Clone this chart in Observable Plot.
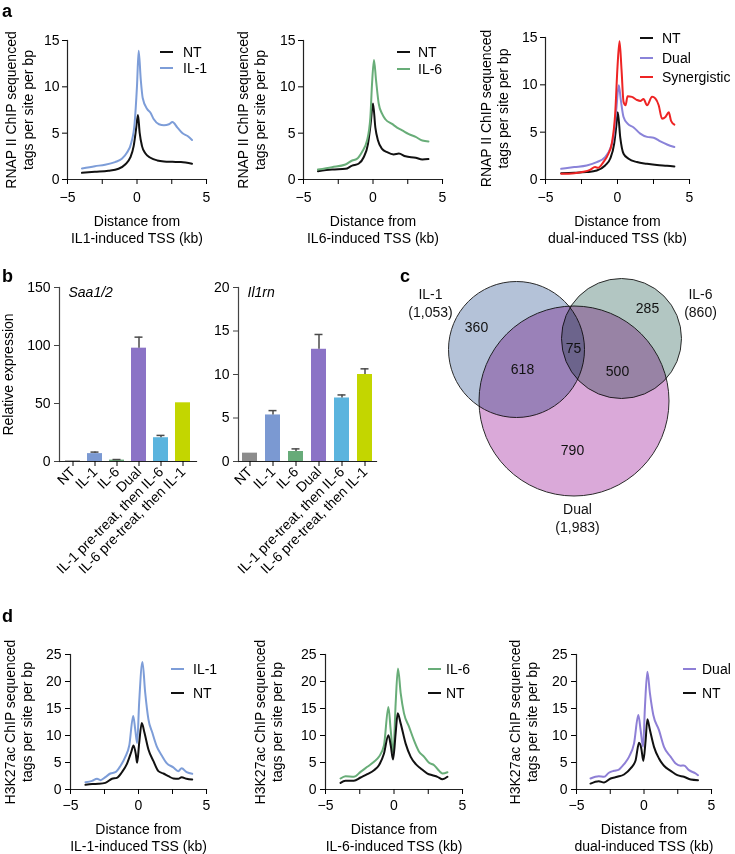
<!DOCTYPE html>
<html><head><meta charset="utf-8">
<script src="https://cdn.jsdelivr.net/npm/d3@7"></script>
<script src="https://cdn.jsdelivr.net/npm/@observablehq/plot@0.6"></script>
<style>
html,body{margin:0;padding:0;background:#fff;}
#fig{position:relative;width:735px;height:854px;font-family:Arial,"Liberation Sans",Helvetica,sans-serif;color:#000;overflow:hidden;background:#fff;}
#fig svg{overflow:visible;}
.pl{position:absolute;font-weight:bold;font-size:18px;line-height:18px;}
.leg{position:absolute;display:flex;align-items:center;font-size:14px;height:16px;line-height:16px;white-space:nowrap;}
.leg .sw{display:inline-block;width:13px;height:2px;}
.venn circle{mix-blend-mode:multiply;}
</style></head><body><div id="fig"></div><script>
// ---------------- DATA ----------------
// Panel a: RNAP II ChIP profiles ([kb, tags per site per bp])
const a1_NT = [[-3.96,0.72],[-3.03,0.83],[-2.06,0.94],[-1.33,1.16],[-0.85,1.62],[-0.49,2.35],[-0.24,3.6],[-0.07,5.4],[0.07,6.97],[0.19,5.05],[0.36,3.6],[0.61,2.8],[0.97,2.35],[1.46,2.06],[1.94,1.95],[2.55,1.91],[3.16,1.88],[3.96,1.7]];
const a1_IL1 = [[-3.96,1.19],[-3.03,1.44],[-2.3,1.59],[-1.58,1.88],[-1.09,2.24],[-0.73,2.89],[-0.41,3.97],[-0.17,6.1],[0,10.1],[0.12,13.9],[0.27,10.8],[0.41,8.8],[0.73,7.6],[0.97,7.2],[1.21,6.5],[1.58,5.96],[1.94,5.85],[2.3,5.96],[2.55,6.2],[2.91,5.6],[3.28,4.98],[3.64,4.69],[3.96,4.26]];
const a2_NT = [[-3.96,0.9],[-2.95,1.08],[-1.98,1.15],[-1.5,1.5],[-1.04,1.7],[-0.67,2.4],[-0.36,3.85],[-0.17,6.0],[0,8.2],[0.17,5.6],[0.36,4.2],[0.65,3.3],[1.01,2.95],[1.49,2.7],[1.86,2.8],[2.34,2.5],[3.07,2.35],[3.55,2.16],[3.99,2.2]];
const a2_IL6 = [[-3.96,1.08],[-2.95,1.33],[-1.98,1.62],[-1.5,2.05],[-1.16,2.23],[-0.8,2.95],[-0.43,4.2],[-0.19,6.7],[-0.07,10.3],[0.07,12.9],[0.22,10.7],[0.41,8.2],[0.65,7.1],[0.89,6.5],[1.37,6.0],[1.73,5.6],[2.1,5.3],[2.58,4.9],[3.07,4.6],[3.55,4.2],[3.99,4.1]];
const a3_NT = [[-3.91,0.67],[-3.0,0.7],[-2.14,0.78],[-1.44,0.95],[-0.86,1.48],[-0.51,2.19],[-0.23,3.78],[-0.09,5.55],[0.02,7.1],[0.19,4.45],[0.42,2.72],[0.77,2.19],[1.35,1.84],[2.05,1.66],[2.74,1.52],[3.44,1.45],[3.95,1.38]];
const a3_Dual = [[-3.91,1.13],[-3.0,1.31],[-2.14,1.48],[-1.44,1.84],[-0.86,2.37],[-0.51,3.25],[-0.28,4.49],[-0.09,7.3],[0.09,9.95],[0.23,8.4],[0.42,6.6],[0.7,5.9],[1.12,5.5],[1.58,4.84],[2.05,4.5],[2.51,4.42],[2.98,4.03],[3.44,3.7],[3.95,3.43]];
const a3_Syn = [[-3.91,0.6],[-3.0,0.67],[-2.37,0.81],[-1.91,1.02],[-1.56,1.31],[-1.33,1.24],[-0.98,1.84],[-0.63,2.72],[-0.4,3.78],[-0.16,6.96],[0,11.9],[0.14,14.6],[0.28,11.6],[0.42,8.2],[0.56,7.84],[0.7,8.8],[1.0,8.73],[1.35,8.4],[1.58,8.3],[1.81,8.5],[2.05,7.84],[2.4,8.73],[2.63,8.55],[2.86,7.84],[3.09,6.43],[3.33,6.6],[3.56,7.1],[3.72,6.2],[3.95,5.8]];
// Panel b: qPCR relative expression
const barCats = ["NT","IL-1","IL-6","Dual","IL-1 pre-treat, then IL-6","IL-6 pre-treat, then IL-1"];
const barColors = ["#8c8c8c","#7b99d2","#67ab79","#8b73c6","#5bb4de","#c3d600"];
const saaVals = [0.6, 6.8, 1.2, 97.7, 20.5, 50.6];
const saaErrs = [0, 1.3, 0.5, 9.5, 2.0, 0];
const il1rnVals = [0.96, 5.35, 1.15, 12.9, 7.3, 10.0];
const il1rnErrs = [0, 0.5, 0.3, 1.7, 0.35, 0.65];
// Panel c: Venn counts
const vennSets = ["IL-1","IL-6","Dual"];
const vennTotals = [1053, 860, 1983];
const vennRegions = ["IL-1 only","IL-6 only","Dual only","IL-1 & Dual","IL-6 & Dual","IL-1 & IL-6 & Dual"];
const vennCounts = [360, 285, 790, 618, 500, 75];
// Panel d: H3K27ac ChIP profiles
const d1_IL1 = [[-3.9,1.36],[-3.41,1.6],[-3.05,1.98],[-2.8,1.73],[-2.44,2.28],[-2.07,2.96],[-1.7,3.2],[-1.34,4.32],[-0.98,5.99],[-0.68,8.15],[-0.39,13.6],[-0.24,11.1],[-0.1,8.6],[0.05,16.2],[0.29,23.6],[0.49,18.0],[0.73,13.0],[1.02,10.5],[1.34,8.0],[1.71,6.3],[2.07,4.9],[2.56,4.1],[2.93,3.4],[3.17,3.95],[3.54,3.2],[3.95,2.9]];
const d1_NT = [[-3.9,0.86],[-3.41,1.0],[-2.93,1.05],[-2.44,1.23],[-1.95,1.98],[-1.59,2.16],[-1.22,3.2],[-0.85,4.75],[-0.54,6.9],[-0.37,8.15],[-0.2,6.6],[-0.1,4.94],[0.05,8.6],[0.24,12.3],[0.44,10.5],[0.73,7.4],[1.1,5.25],[1.46,3.4],[1.83,2.96],[2.2,2.47],[2.56,2.04],[2.93,1.98],[3.17,2.28],[3.54,1.98],[3.95,1.85]];
const d2_IL6 = [[-3.9,2.04],[-3.54,2.47],[-2.93,2.35],[-2.44,3.27],[-1.95,4.2],[-1.46,5.12],[-1.1,6.05],[-0.73,8.2],[-0.41,15.3],[-0.24,11.0],[-0.05,6.7],[0.12,15.9],[0.29,22.4],[0.49,17.8],[0.73,14.1],[1.1,11.6],[1.46,9.1],[1.83,7.0],[2.2,6.05],[2.56,4.94],[2.93,4.5],[3.29,3.46],[3.54,2.96],[3.9,3.2]];
const d2_NT = [[-3.9,1.23],[-3.54,1.6],[-2.93,1.6],[-2.44,2.22],[-1.95,2.84],[-1.46,3.58],[-1.1,4.5],[-0.73,6.67],[-0.41,10.06],[-0.24,8.2],[-0.07,5.55],[0.12,10.4],[0.27,14.1],[0.49,12.2],[0.85,8.5],[1.22,6.05],[1.59,4.7],[1.95,3.9],[2.44,2.96],[2.8,2.65],[3.17,2.35],[3.54,1.9],[3.9,2.35]];
const d3_Dual = [[-3.96,2.04],[-3.35,2.47],[-2.96,2.35],[-2.6,3.1],[-2.22,3.46],[-1.86,3.7],[-1.48,4.69],[-1.11,6.05],[-0.74,8.5],[-0.42,13.8],[-0.25,11.0],[-0.07,7.9],[0.07,15.3],[0.25,21.8],[0.44,17.8],[0.69,13.8],[1.11,11.0],[1.48,7.9],[1.98,6.05],[2.35,4.8],[2.72,4.4],[2.96,4.45],[3.33,3.58],[3.83,2.96],[4.0,2.65]];
const d3_NT = [[-3.96,1.1],[-3.35,1.54],[-2.96,1.3],[-2.47,2.04],[-1.98,2.35],[-1.48,2.78],[-0.99,3.9],[-0.62,5.43],[-0.37,8.64],[-0.2,7.6],[-0.05,5.3],[0.12,9.1],[0.25,13.0],[0.44,11.0],[0.74,7.9],[1.11,5.74],[1.48,4.4],[1.98,3.46],[2.47,2.65],[2.96,2.35],[3.46,1.85],[4.0,1.73]];

// ---------------- STYLE / LAYOUT ----------------
const FONT = 'Arial, "Liberation Sans", Helvetica, sans-serif';
const C = {NT:"#111111", IL1:"#7d9dd8", IL6:"#68ad78", DualA:"#8a83d9", DualD:"#8e7fd6", Syn:"#ee2424"};
const fig = document.getElementById("fig");
function place(el, left, top){ el.style.position="absolute"; el.style.left=left+"px"; el.style.top=top+"px"; fig.appendChild(el); return el; }
const minusFmt = d => Number.isInteger(d) ? (d < 0 ? "\u2212" + (-d) : String(d)) : "";

function profile(cfg){
  return Plot.plot({
    width: cfg.width, height: cfg.height,
    marginLeft: cfg.ml, marginRight: cfg.mr, marginTop: cfg.mt, marginBottom: cfg.mb,
    style: {fontFamily: FONT, fontSize: "14px", background: "transparent", overflow: "visible"},
    x: {domain: [-5, 5], label: null},
    y: {domain: [0, cfg.yMax], label: null},
    marks: [
      ...cfg.series.map(s => Plot.line(s.data, {x: d => d[0], y: d => d[1], stroke: s.color, strokeWidth: 2, curve: "monotone-x"})),
      Plot.frame({anchor: "left", stroke: "#222", strokeWidth: 1.2}),
      Plot.frame({anchor: "bottom", stroke: "#222", strokeWidth: 1.2}),
      Plot.axisY({ticks: cfg.yTicks, tickSize: 5, tickPadding: cfg.yPad, label: null, tickFormat: d => String(d)}),
      Plot.axisX({ticks: [-5, -2.5, 0, 2.5, 5], tickSize: 5, tickPadding: cfg.xPad, label: null, tickFormat: minusFmt}),
      Plot.text([cfg.yTitle], {text: d => d, frameAnchor: "left", rotate: -90, textAnchor: "middle", lineAnchor: "middle", dx: cfg.yTitleDx, fontSize: 14, lineHeight: 1.2}),
      Plot.text([cfg.xTitle], {text: d => d, frameAnchor: "bottom", textAnchor: "middle", lineAnchor: "middle", dy: cfg.xTitleDy, fontSize: 14, lineHeight: 1.2})
    ]
  });
}

function bars(cfg){
  const rows = barCats.map((c, i) => ({cat: c, v: cfg.vals[i], e: cfg.errs[i], color: barColors[i]}));
  const withErr = rows.filter(d => d.e > 0);
  const marks = [
    Plot.barY(rows, {x: "cat", y: "v", fill: "color"}),
    Plot.ruleX(withErr, {x: "cat", y1: "v", y2: d => d.v + d.e, stroke: "#4a4a4a", strokeWidth: 1.5}),
    Plot.tickY(withErr, {x: "cat", y: d => d.v + d.e, stroke: "#4a4a4a", strokeWidth: 1.5, insetLeft: 3.5, insetRight: 3.5}),
    Plot.frame({anchor: "left", stroke: "#444", strokeWidth: 1.2}),
    Plot.frame({anchor: "bottom", stroke: "#222", strokeWidth: 1.2}),
    Plot.axisY({ticks: cfg.yTicks, tickSize: 5, tickPadding: 4, label: null, stroke: "#444"}),
    Plot.axisX({tickRotate: -45, tickSize: 5, tickPadding: 3, label: null}),
    Plot.text([cfg.title], {text: d => d, frameAnchor: "top-left", textAnchor: "start", lineAnchor: "middle", dx: 9, dy: 5, fontStyle: "italic", fontSize: 14})
  ];
  if (cfg.yTitle) marks.push(Plot.text([cfg.yTitle], {text: d => d, frameAnchor: "left", rotate: -90, textAnchor: "middle", lineAnchor: "middle", dx: cfg.yTitleDx, fontSize: 14}));
  return Plot.plot({
    width: cfg.width, height: cfg.height,
    marginLeft: cfg.ml, marginRight: cfg.mr, marginTop: cfg.mt, marginBottom: cfg.mb,
    style: {fontFamily: FONT, fontSize: "14px", background: "transparent", overflow: "visible"},
    x: {domain: barCats, paddingInner: 0.33, paddingOuter: 0.15, label: null},
    y: {domain: [0, cfg.yMax], label: null},
    color: {type: "identity"},
    marks
  });
}

function legend(left, items, gap){
  items.forEach(it => {
    const d = document.createElement("div");
    d.className = "leg";
    d.innerHTML = `<span class="sw" style="background:${it.color}"></span><span style="margin-left:${gap}px">${it.label}</span>`;
    place(d, left, it.y - 8);
  });
}
function letter(t, left, top){ const d = document.createElement("div"); d.className = "pl"; d.textContent = t; place(d, left, top); }

// ---------------- PANEL a ----------------
const rnapTitle = "RNAP II ChIP sequenced\ntags per site per bp";
place(profile({width:245, height:250, ml:67, mr:39, mt:40, mb:71, yMax:15, yTicks:[0,5,10,15], yPad:3, xPad:8,
  yTitle: rnapTitle, yTitleDx:-48.5, xTitle:"Distance from\nIL1-induced TSS (kb)", xTitleDy:49.5,
  series:[{data:a1_NT, color:C.NT},{data:a1_IL1, color:C.IL1}]}), 0, 0);
place(profile({width:245, height:250, ml:58, mr:48, mt:40, mb:71, yMax:15, yTicks:[0,5,10,15], yPad:3, xPad:8,
  yTitle: rnapTitle, yTitleDx:-52.5, xTitle:"Distance from\nIL6-induced TSS (kb)", xTitleDy:49.5,
  series:[{data:a2_NT, color:C.NT},{data:a2_IL6, color:C.IL6}]}), 245, 0);
place(profile({width:245, height:250, ml:55, mr:46, mt:37, mb:71, yMax:15, yTicks:[0,5,10,15], yPad:3, xPad:8,
  yTitle: rnapTitle, yTitleDx:-51.5, xTitle:"Distance from\ndual-induced TSS (kb)", xTitleDy:49.5,
  series:[{data:a3_NT, color:C.NT},{data:a3_Dual, color:C.DualA},{data:a3_Syn, color:C.Syn}]}), 490, 0);
legend(160, [{label:"NT", color:C.NT, y:52},{label:"IL-1", color:C.IL1, y:68}], 10);
legend(397, [{label:"NT", color:C.NT, y:52},{label:"IL-6", color:C.IL6, y:69}], 8);
legend(640, [{label:"NT", color:C.NT, y:38},{label:"Dual", color:C.DualA, y:58},{label:"Synergistic", color:C.Syn, y:77}], 9);

// ---------------- PANEL b ----------------
place(bars({width:205, height:320, ml:59, mr:9, mt:47, mb:99, yMax:150, yTicks:[0,50,100,150],
  vals: saaVals, errs: saaErrs, title:"Saa1/2", yTitle:"Relative expression", yTitleDx:-51}), 0, 240);
place(bars({width:190, height:320, ml:43, mr:9, mt:47, mb:99, yMax:20, yTicks:[0,5,10,15,20],
  vals: il1rnVals, errs: il1rnErrs, title:"Il1rn"}), 195, 240);

// ---------------- PANEL c (Venn) ----------------
const vennFill = ["#b4c2d8","#b2c6c2","#daa9d9"];
const vennCircleLayout = [{cx:136, cy:84, r:68},{cx:241, cy:73, r:60},{cx:193.5, cy:135.5, r:95}];
const vennSetLabelLayout = [[50,37],[320,37],[197,252]];
const vennRegionLayout = [[96,62],[267,43],[192,185],[142,104],[237,106],[193,83]];
const vennSetRows = vennSets.map((s,i) => ({x: vennSetLabelLayout[i][0], y: vennSetLabelLayout[i][1], t: s + "\n(" + d3.format(",")(vennTotals[i]) + ")"}));
const vennRegionRows = vennRegions.map((s,i) => ({name: s, x: vennRegionLayout[i][0], y: vennRegionLayout[i][1], t: String(vennCounts[i])}));
const venn = Plot.plot({
  width: 355, height: 275, margin: 0,
  style: {fontFamily: FONT, fontSize: "14px", background: "transparent", overflow: "visible"},
  x: {domain: [0, 355], range: [0, 355]}, y: {domain: [0, 275], range: [0, 275]}, axis: null,
  marks: [
    ...vennCircleLayout.map((c, i) => Plot.dot([c], {x: "cx", y: "cy", r: c.r, fill: vennFill[i], fillOpacity: 1, stroke: "#2a2a2a", strokeWidth: 1, mixBlendMode: "multiply"})),
    Plot.text(vennRegionRows, {x: "x", y: "y", text: "t", fontSize: 14, fill: "#111"}),
    Plot.text(vennSetRows, {x: "x", y: "y", text: "t", fontSize: 14, lineHeight: 1.29, fill: "#111"})
  ]
});
venn.classList.add("venn");
place(venn, 380, 265);

// ---------------- PANEL d ----------------
const h3Title = "H3K27ac ChIP sequenced\ntags per site per bp";
place(profile({width:245, height:254, ml:70, mr:39, mt:54, mb:65, yMax:25, yTicks:[0,5,10,15,20,25], yPad:4, xPad:6,
  yTitle: h3Title, yTitleDx:-52, xTitle:"Distance from\nIL-1-induced TSS (kb)", xTitleDy:47.5,
  series:[{data:d1_IL1, color:C.IL1},{data:d1_NT, color:C.NT}]}), 0, 600);
place(profile({width:245, height:254, ml:80, mr:28, mt:54, mb:65, yMax:25, yTicks:[0,5,10,15,20,25], yPad:4, xPad:6,
  yTitle: h3Title, yTitleDx:-57, xTitle:"Distance from\nIL-6-induced TSS (kb)", xTitleDy:47.5,
  series:[{data:d2_IL6, color:C.IL6},{data:d2_NT, color:C.NT}]}), 245, 600);
place(profile({width:245, height:254, ml:86, mr:24, mt:54, mb:65, yMax:25, yTicks:[0,5,10,15,20,25], yPad:4, xPad:6,
  yTitle: h3Title, yTitleDx:-53, xTitle:"Distance from\ndual-induced TSS (kb)", xTitleDy:47.5,
  series:[{data:d3_Dual, color:C.DualD},{data:d3_NT, color:C.NT}]}), 490, 600);
legend(171, [{label:"IL-1", color:C.IL1, y:669},{label:"NT", color:C.NT, y:693}], 9);
legend(428, [{label:"IL-6", color:C.IL6, y:669},{label:"NT", color:C.NT, y:693}], 5);
legend(683, [{label:"Dual", color:C.DualD, y:669},{label:"NT", color:C.NT, y:693}], 6);

// ---------------- panel letters ----------------
letter("a", 2, 2);
letter("b", 2, 267);
letter("c", 400, 267);
letter("d", 2, 607);
</script></body></html>
